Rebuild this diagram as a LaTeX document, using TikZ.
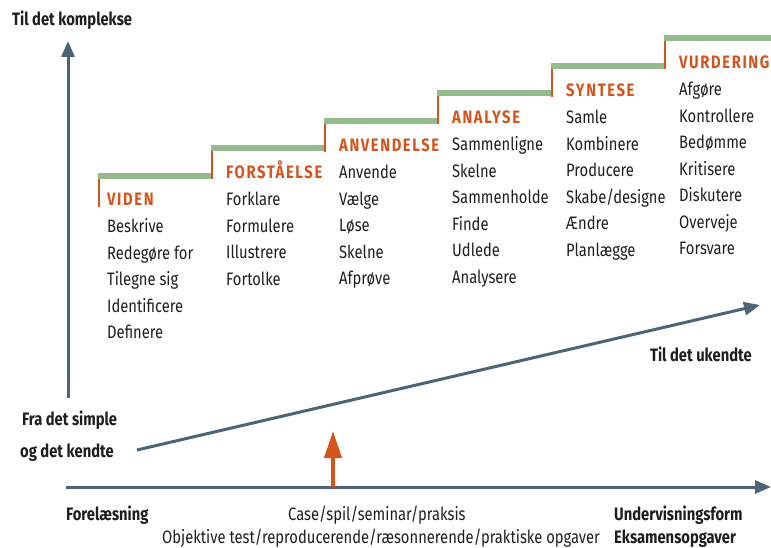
\documentclass[tikz,border=0pt]{standalone}
\usepackage{fontspec}
\setmainfont{Fira Sans}[FakeStretch=0.82]
\usetikzlibrary{arrows.meta,positioning}
\definecolor{axisblue}{HTML}{4D6475}
\definecolor{stepgreen}{HTML}{93BB8B}
\definecolor{steporange}{HTML}{D4541C}
\definecolor{textdark}{HTML}{1E1E1E}
\begin{document}
\begin{tikzpicture}[x=1pt,y=-1pt]
    \tikzset{lbl/.style = {anchor=base west,inner sep=0pt,text=textdark,font=\fontsize{18}{26.5}\selectfont}}
    \tikzset{boldlbl/.style = {lbl,font=\fontsize{18}{26.5}\selectfont\bfseries}}
    \tikzset{head/.style = {lbl,text=steporange,font=\fontsize{18}{26.5}\selectfont\bfseries\addfontfeature{LetterSpace=9}}}
    \tikzset{tread/.style = {stepgreen,line width=6pt}}
    \tikzset{riser/.style = {steporange,line width=2pt}}
    \tikzset{axis/.style = {axisblue,line width=3pt,-{Triangle[length=16pt,width=13pt]}}}
    \useasboundingbox (0,0) rectangle (771,548);
    % stairs
    \draw[tread] (98,176) -- (213,176);
    \draw[tread] (211,148.5) -- (326,148.5);
    \draw[tread] (324,121) -- (439,121);
    \draw[tread] (437,93.5) -- (553,93.5);
    \draw[tread] (551,66) -- (666,66);
    \draw[tread] (664,38.5) -- (771,38.5);
    \draw[riser] (99,179) -- (99,207);
    \draw[riser] (212,151.5) -- (212,179.5);
    \draw[riser] (325,124) -- (325,152);
    \draw[riser] (438,96.5) -- (438,124.5);
    \draw[riser] (552,69) -- (552,97);
    \draw[riser] (665,41.5) -- (665,69.5);
    % levels
    \node[head] (viden) at (107,206) {VIDEN};
    \node[head] (forst) at (226,179) {FORSTÅELSE};
    \node[head] (anvend) at (339,152) {ANVENDELSE};
    \node[head] (analyse) at (452,124) {ANALYSE};
    \node[head] (syntese) at (566,97) {SYNTESE};
    \node[head] (vurd) at (679,69) {VURDERING};
    \node[lbl] (videnlist) at (107,233) {\begin{tabular}[t]{@{}l@{}}Beskrive\\Redegøre for\\Tilegne sig\\Identificere\\Definere\end{tabular}};
    \node[lbl] (forstlist) at (226,206) {\begin{tabular}[t]{@{}l@{}}Forklare\\Formulere\\Illustrere\\Fortolke\end{tabular}};
    \node[lbl] (anvendlist) at (339,179) {\begin{tabular}[t]{@{}l@{}}Anvende\\Vælge\\Løse\\Skelne\\Afprøve\end{tabular}};
    \node[lbl] (analyselist) at (452,151) {\begin{tabular}[t]{@{}l@{}}Sammenligne\\Skelne\\Sammenholde\\Finde\\Udlede\\Analysere\end{tabular}};
    \node[lbl] (syntleselist) at (566,124) {\begin{tabular}[t]{@{}l@{}}Samle\\Kombinere\\Producere\\Skabe/designe\\Ændre\\Planlægge\end{tabular}};
    \node[lbl] (vurdlist) at (679,96) {\begin{tabular}[t]{@{}l@{}}Afgøre\\Kontrollere\\Bedømme\\Kritisere\\Diskutere\\Overveje\\Forsvare\end{tabular}};
    % axes
    \coordinate (ybot) at (68,398);
    \coordinate (ytop) at (68,41);
    \coordinate (dstart) at (137,450);
    \coordinate (dend) at (760,305);
    \coordinate (xstart) at (66,487);
    \coordinate (xend) at (771,487);
    \coordinate (obot) at (333,487);
    \coordinate (otop) at (333,431);
    \draw[axis] (ybot) -- (ytop);
    \draw[axis] (dstart) -- (dend);
    \draw[axis] (xstart) -- (xend);
    \draw[steporange,line width=4pt,-{Triangle[length=27pt,width=17pt]}] (obot) -- (otop);
    % labels
    \node[boldlbl] (komplekse) at (12,26) {Til det komplekse};
    \node[boldlbl] (simple) at (22,425) {Fra det simple};
    \node[boldlbl] (kendte) at (20,457) {og det kendte};
    \node[boldlbl,anchor=base east] (ukendte) at (752,361) {Til det ukendte};
    \node[boldlbl] (forel) at (66,520) {Forelæsning};
    \node[lbl] (case) at (288,520) {Case/spil/seminar/praksis};
    \node[lbl] (objektiv) at (162,543) {Objektive test/reproducerende/ræsonnerende/praktiske opgaver};
    \node[boldlbl] (underv) at (614,520) {Undervisningsform};
    \node[boldlbl] (eksamen) at (614,543) {Eksamensopgaver};
\end{tikzpicture}
\end{document}
